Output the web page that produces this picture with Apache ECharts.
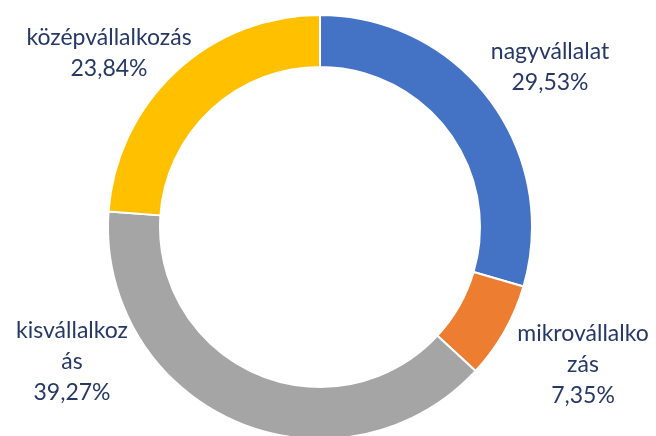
<!DOCTYPE html>
<html>
<head>
<meta charset="utf-8">
<script src="https://cdn.jsdelivr.net/npm/echarts@6/dist/echarts.min.js"></script>
<style>
html,body{margin:0;padding:0;background:#fff;}
#chart{width:656px;height:436px;}
</style>
</head>
<body>
<div id="chart"></div>
<script>
// Data
var categories = ['nagyvállalat', 'mikrovállalkozás', 'kisvállalkozás', 'középvállalkozás'];
var values = [29.53, 7.35, 39.27, 23.84];
var valueLabels = ['29,53%', '7,35%', '39,27%', '23,84%'];

// Styling / layout (not data)
var colors = ['#4472C4', '#ED7D31', '#A5A5A5', '#FFC000'];
var labelWidths = [200, 148, 132, 220];
var labelAnchors = [[550, 67], [583, 365], [72, 362], [109, 53]];

var chart = echarts.init(document.getElementById('chart'), null, {renderer: 'canvas'});
chart.setOption({
  backgroundColor: '#ffffff',
  animation: false,
  color: colors,
  series: [{
    type: 'pie',
    center: [320, 227],
    radius: [160, 212],
    startAngle: 90,
    clockwise: true,
    avoidLabelOverlap: false,
    itemStyle: {borderColor: '#ffffff', borderWidth: 2},
    label: {
      show: true,
      position: 'outside',
      fontFamily: 'Lato',
      fontSize: 23,
      color: '#263866',
      lineHeight: 31,
      align: 'center',
      verticalAlign: 'middle',
      overflow: 'breakAll',
      formatter: function (p) { return p.name + '\n' + valueLabels[p.dataIndex]; }
    },
    labelLine: {show: false},
    labelLayout: function (p) {
      var a = labelAnchors[p.dataIndex];
      return {x: a[0], y: a[1], align: 'center', verticalAlign: 'middle'};
    },
    data: categories.map(function (c, i) {
      return {name: c, value: values[i], label: {width: labelWidths[i]}};
    })
  }]
});
</script>
</body>
</html>
